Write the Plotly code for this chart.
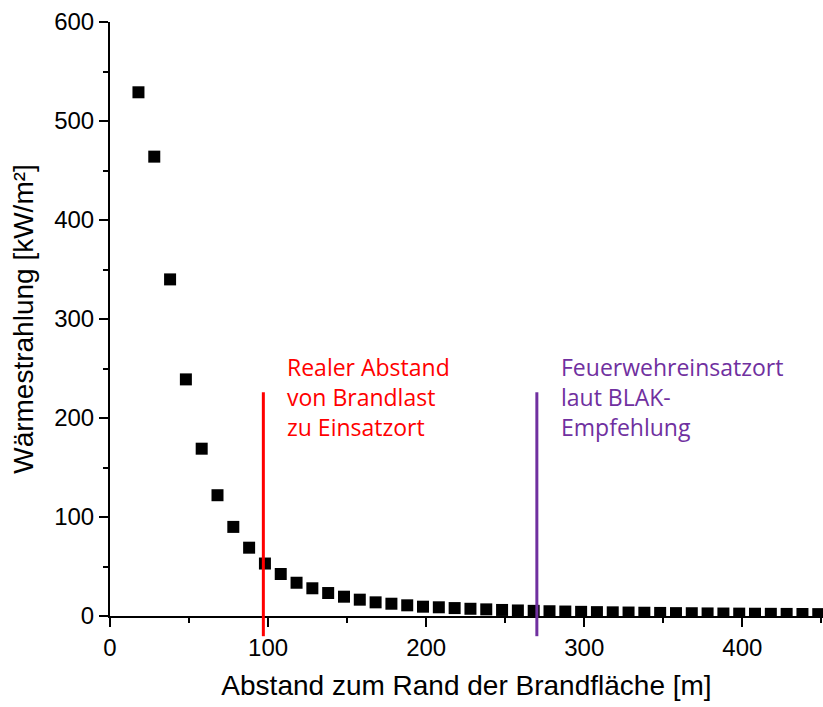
import plotly.graph_objects as go

# Distance from the edge of the fire area [m]
distance = [18, 28, 38, 48, 58, 68, 78, 88, 98, 108, 118, 128, 138, 148, 158, 168,
            178, 188, 198, 208, 218, 228, 238, 248, 258, 268, 278, 288, 298, 308,
            318, 328, 338, 348, 358, 368, 378, 388, 398, 408, 418, 428, 438, 448]
# Heat radiation [kW/m²]
radiation = [529, 464, 340, 239, 169, 122, 90, 69, 53, 42.4, 33.6, 28, 23.2, 19.5,
             16.5, 13.8, 12.4, 10.8, 9.4, 8.8, 8.0, 7.3, 6.7, 6.1, 5.6, 5.2, 4.8,
             4.5, 4.2, 3.9, 3.7, 3.5, 3.3, 3.1, 2.9, 2.8, 2.6, 2.5, 2.4, 2.3, 2.2,
             2.1, 2.0, 1.9]

# Reference distances marked with vertical lines
marker_x = [97, 270]
marker_top = 226
marker_colors = ["#FF0000", "#7030A0"]
marker_texts = ["Realer Abstand<br>von Brandlast<br>zu Einsatzort",
                "Feuerwehreinsatzort<br>laut BLAK-<br>Empfehlung"]

x_range = [0, 451]
y_range = [0, 600]

fig = go.Figure()
fig.add_trace(go.Scatter(
    x=distance, y=radiation, mode="markers",
    marker=dict(symbol="square", size=12, color="black", line=dict(width=0)),
    showlegend=False,
))

for xv, col, txt in zip(marker_x, marker_colors, marker_texts):
    fig.add_shape(type="line", xref="x", yref="paper",
                  x0=xv, x1=xv, y0=-0.034, y1=marker_top / y_range[1],
                  line=dict(color=col, width=3))
    fig.add_annotation(x=xv, y=marker_top / y_range[1] + 0.072, xref="x", yref="paper",
                       xshift=22, text=txt, showarrow=False, align="left",
                       xanchor="left", yanchor="top",
                       font=dict(family="Open Sans", size=23, color=col))

axis_font = dict(family="Liberation Sans", size=24, color="black")
fig.update_xaxes(
    range=x_range, dtick=100, tick0=0, ticks="outside", ticklen=9, tickwidth=2,
    tickcolor="black", showline=True, linewidth=2, linecolor="black",
    showgrid=False, zeroline=False, tickfont=axis_font,
    minor=dict(dtick=50, ticks="outside", ticklen=5, tickwidth=2, tickcolor="black"),
    title=dict(text="Abstand zum Rand der Brandfläche [m]", standoff=16,
               font=dict(family="Liberation Sans", size=28, color="black")),
)
fig.update_yaxes(
    range=y_range, dtick=100, tick0=0, ticks="outside", ticklen=9, tickwidth=2,
    tickcolor="black", showline=True, linewidth=2, linecolor="black",
    showgrid=False, zeroline=False, tickfont=axis_font,
    minor=dict(dtick=50, ticks="outside", ticklen=5, tickwidth=2, tickcolor="black"),
    title=dict(text="Wärmestrahlung [kW/m²]", standoff=12,
               font=dict(family="Liberation Sans", size=28, color="black")),
)

fig.update_layout(
    width=823, height=707,
    margin=dict(l=110, r=0, t=22, b=91),
    plot_bgcolor="white", paper_bgcolor="white",
)

fig.write_html("out.html")
